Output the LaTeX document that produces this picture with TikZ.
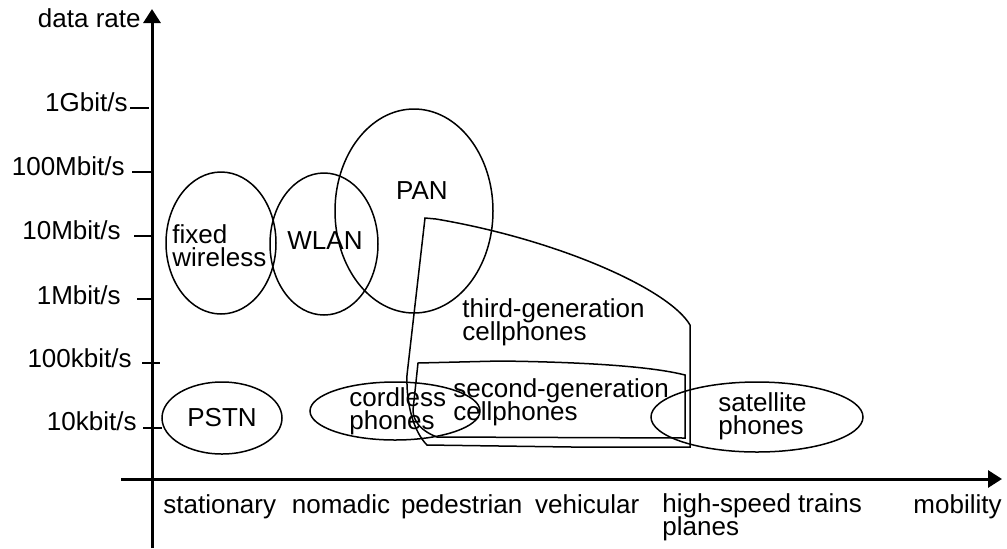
\documentclass[tikz,border=0pt]{standalone}
\usepackage{fontspec}
\setmainfont{Liberation Sans}
\usetikzlibrary{positioning, arrows.meta}
\newcommand{\tightlines}{\lineskiplimit=-6pt\relax\lineskip=0pt\relax}

\begin{document}
\begin{tikzpicture}[
    x=0.5pt, y=-0.5pt,% one unit = one pixel of the layout, y downwards
    axis/.style={
        line width=1.5pt,
        -{Triangle[width=8.5pt,length=7pt]}
    },
    tick/.style={line width=0.6pt},
    zone/.style={line width=0.75pt},
    lbl/.style={
        font=\fontsize{13}{11.5}\selectfont\tightlines,
        inner sep=0pt,
        align=left
    }
]
    \useasboundingbox (0,0) rectangle (1007,548);

    % --- axes ---
    \coordinate (ybot)   at (152,548);
    \coordinate (ytop)   at (152,9);
    \coordinate (xleft)  at (121,479);
    \coordinate (xright) at (1002,479);
    \draw[axis] (ybot) -- (ytop);
    \draw[axis] (xleft) -- (xright);

    \node[lbl, anchor=mid east] (rate) at (141,22) {data rate};
    \node[lbl, anchor=mid east] (mob) at (1002,508) {mobility};

    % --- data rate ticks ---
    \draw[tick] (130,108) -- (149,108);
    \draw[tick] (132,172) -- (152,172);
    \draw[tick] (134,236) -- (152,236);
    \draw[tick] (137,299) -- (152,299);
    \draw[tick] (142,363) -- (160,363);
    \draw[tick] (143,428) -- (162,428);

    \node[lbl, anchor=mid east] (g1)   at (128,106) {1Gbit/s};
    \node[lbl, anchor=mid east] (m100) at (125,170) {100Mbit/s};
    \node[lbl, anchor=mid east] (m10)  at (121,234) {10Mbit/s};
    \node[lbl, anchor=mid east] (m1)   at (121,299) {1Mbit/s};
    \node[lbl, anchor=mid east] (k100) at (132,362) {100kbit/s};
    \node[lbl, anchor=mid east] (k10)  at (137,425) {10kbit/s};

    % --- mobility classes ---
    \node[lbl, anchor=mid west] (stat) at (163,508) {stationary};
    \node[lbl, base right=7.5pt of stat] (noma) {nomadic};
    \node[lbl, base right=5pt of noma] (pede) {pedestrian};
    \node[lbl, base right=6pt of pede] (vehi) {vehicular};
    \node[lbl, anchor=north west] (fast) at (662,493)
        {high-speed trains\\planes};

    % --- fixed and wireless networks ---
    \draw[zone] (221,243) ellipse [x radius=55, y radius=71];
    \draw[zone] (324,244) ellipse [x radius=54, y radius=71];
    \draw[zone] (414,211) ellipse [x radius=79, y radius=102];
    \draw[zone] (222,418) ellipse [x radius=60, y radius=36];
    \draw[zone] (395,411) ellipse [x radius=85, y radius=29];
    \draw[zone] (757,417) ellipse [x radius=106, y radius=35];

    % third generation
    \draw[zone] (425,218) -- (436,219)
        .. controls (560,240) and (670,290) .. (690,325)
        -- (690,447) -- (572,447) -- (427,445)
        .. controls (414,432) and (406,405) .. (407,375)
        -- cycle;

    % second generation
    \draw[zone] (418,363) -- (500,361)
        .. controls (580,362) and (650,366) .. (685,375)
        -- (685,438) -- (437,437)
        .. controls (421,431) and (413,421) .. (413,410)
        -- cycle;

    % --- zone labels ---
    \node[lbl, anchor=west] (fixw) at (172,246) {fixed\\wireless};
    \node[lbl] (wlan) at (325,241) {WLAN};
    \node[lbl] (pan)  at (422,191) {PAN};
    \node[lbl] (pstn) at (222,418) {PSTN};
    \node[lbl, anchor=west] (cord) at (349,411) {cordless\\phones};
    \node[lbl, anchor=west] (gen3) at (462,322) {third-generation\\cellphones};
    \node[lbl, anchor=west] (gen2) at (453,402) {second-generation\\cellphones};
    \node[lbl, anchor=west] (sat)  at (718,416) {satellite\\phones};

\end{tikzpicture}
\end{document}
